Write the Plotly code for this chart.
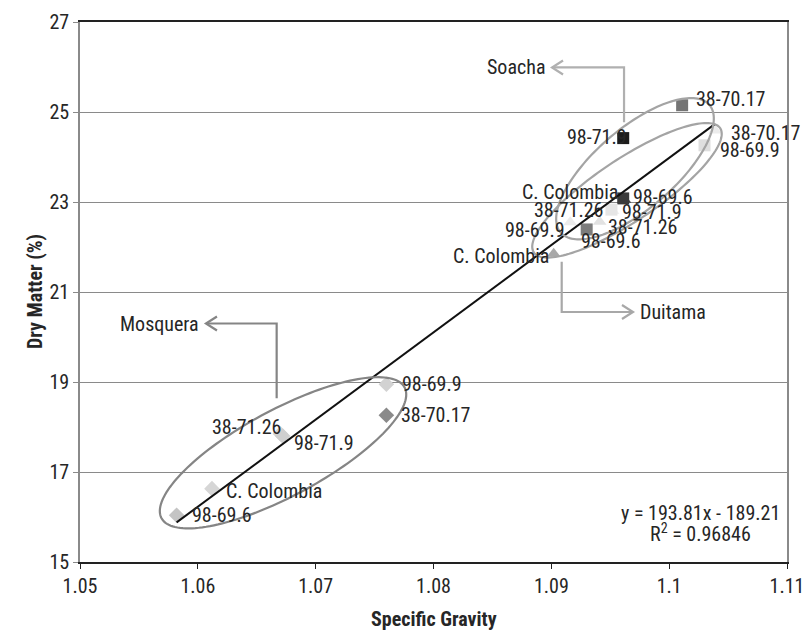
import numpy as np
import plotly.graph_objects as go

# ---------------- data ----------------
mosquera_labels = ["98-69.6", "C. Colombia", "38-71.26", "98-71.9", "98-69.9", "38-70.17"]
mosquera_sg = [1.0582, 1.0612, 1.0670, 1.0672, 1.0760, 1.0760]
mosquera_dm = [16.04, 16.63, 17.85, 17.80, 18.95, 18.26]

soacha_labels = ["38-70.17", "98-71.9", "98-69.9", "C. Colombia", "38-71.26", "98-69.6"]
soacha_sg = [1.1011, 1.0961, 1.1030, 1.0961, 1.0951, 1.0930]
soacha_dm = [25.15, 24.42, 24.26, 23.08, 22.83, 22.39]

duitama_labels = ["38-70.17", "98-69.6", "98-71.9", "38-71.26", "98-69.9", "C. Colombia"]
duitama_sg = [1.1039, 1.0962, 1.0952, 1.0941, 1.0916, 1.0902]
duitama_dm = [24.59, 23.05, 22.80, 22.56, 22.55, 21.85]

x_tick_vals = [1.05, 1.06, 1.07, 1.08, 1.09, 1.10, 1.11]
x_tick_text = ["1.05", "1.06", "1.07", "1.08", "1.09", "1.1", "1.11"]
y_tick_vals = [15, 17, 19, 21, 23, 25, 27]

trend_slope = 193.81
trend_intercept = -189.21
r_squared = 0.96846

group_names = ["Mosquera", "Soacha", "Duitama"]

# ---------------- styles ----------------
FONT = "Roboto Condensed, Liberation Sans Narrow, Arial Narrow, sans-serif"
TXT = "#262626"
FS = 20

mosquera_colors = ["#c4c4c4", "#d6d6d6", "#d6d6d6", "#cfcfcf", "#d2d2d2", "#8a8a8a"]
soacha_colors = ["#747474", "#1c1c1c", "#dedede", "#3a3a3a", "#e6e6e6", "#7c7c7c"]
duitama_colors = ["#ececec", "#444444", "#f0f0f0", "#e2e2e2", "#ececec", "#a8a8a8"]

# label placement: (xanchor, xshift px, yshift px)
mosquera_lab = [("left", 13, 0), ("left", 12, -2), ("right", 3, 7), ("left", 9, -7),
                ("left", 14, 0), ("left", 13, 0)]
soacha_lab = [("left", 12, 6), ("right", 6, 1), ("left", 13, -5), ("right", -3, 6),
              ("right", -6, 0), ("left", -8, -12)]
duitama_lab = [("left", 14, -3), ("left", 7, 3), ("left", 7, -1), ("left", 6, -5),
               ("right", -3, -8), ("right", -3, -2)]

X_RANGE = [1.05, 1.11]
Y_RANGE = [15, 27]
W, H = 805, 630
ML, MR, MT, MB = 80, 18, 22, 68
PLOT_W = W - ML - MR
PLOT_H = H - MT - MB
PX_X = PLOT_W / (X_RANGE[1] - X_RANGE[0])
PX_Y = PLOT_H / (Y_RANGE[1] - Y_RANGE[0])

fig = go.Figure()

fig.add_trace(go.Scatter(x=mosquera_sg, y=mosquera_dm, mode="markers", name=group_names[0],
                         marker=dict(symbol="diamond", size=12, color=mosquera_colors,
                                     line=dict(width=0))))
fig.add_trace(go.Scatter(x=duitama_sg, y=duitama_dm, mode="markers", name=group_names[2],
                         marker=dict(symbol="triangle-up", size=12, color=duitama_colors,
                                     line=dict(width=0))))
fig.add_trace(go.Scatter(x=soacha_sg, y=soacha_dm, mode="markers", name=group_names[1],
                         marker=dict(symbol="square", size=12, color=soacha_colors,
                                     line=dict(width=0))))

all_x = mosquera_sg + soacha_sg + duitama_sg
tx = np.array([min(all_x), max(all_x)])
fig.add_trace(go.Scatter(x=tx, y=trend_slope * tx + trend_intercept, mode="lines",
                         line=dict(color="#111111", width=2), showlegend=False))

annotations = []
for labels, xs, ys, placement in [(mosquera_labels, mosquera_sg, mosquera_dm, mosquera_lab),
                                  (soacha_labels, soacha_sg, soacha_dm, soacha_lab),
                                  (duitama_labels, duitama_sg, duitama_dm, duitama_lab)]:
    for lab, x, y, (xa, xs_, ys_) in zip(labels, xs, ys, placement):
        annotations.append(dict(x=x, y=y, text=lab, showarrow=False, xanchor=xa,
                                yanchor="middle", xshift=xs_, yshift=ys_,
                                font=dict(family=FONT, size=FS, color=TXT)))


def ellipse_path(cx, cy, a, b, theta_deg, n=160):
    th = np.radians(theta_deg)
    t = np.linspace(0, 2 * np.pi, n)
    u, v = a * np.cos(t), b * np.sin(t)
    dx = u * np.cos(th) - v * np.sin(th)
    dy = u * np.sin(th) + v * np.cos(th)
    xs = cx + dx / PX_X
    ys = cy + dy / PX_Y
    return "M " + " L ".join(f"{x:.6f},{y:.5f}" for x, y in zip(xs, ys)) + " Z"


def px_dx(p):
    return p / PX_X


def px_dy(p):
    return p / PX_Y


shapes = []
# ellipses (center in data units, semi-axes in px, angle deg)
ellipses = [((1.06723, 17.427), 138, 43, 28.3, "#858585"),
            ((1.0971, 23.74), 98, 40, 40.6, "#a4a4a4"),
            ((1.09642, 23.26), 112, 31, 33.7, "#a4a4a4")]
for (cx, cy), a, b, th, col in ellipses:
    shapes.append(dict(type="path", path=ellipse_path(cx, cy, a, b, th),
                       line=dict(color=col, width=2.2), layer="above"))

# connectors with open arrowheads at the end and group name beyond
connectors = [
    ([(1.06669, 18.64), (1.06669, 20.30), (1.06069, 20.30)], "#858585", "Mosquera"),
    ([(1.09617, 24.77), (1.09617, 25.99), (1.09006, 25.99)], "#b0b0b0", "Soacha"),
    ([(1.09088, 21.67), (1.09088, 20.556), (1.09693, 20.556)], "#a8a8a8", "Duitama"),
]
for pts, col, name in connectors:
    path = "M " + " L ".join(f"{x},{y}" for x, y in pts)
    shapes.append(dict(type="path", path=path, line=dict(color=col, width=2.2), layer="above"))
    (x1, y1), (x2, y2) = pts[-2], pts[-1]
    sgn = 1 if x2 > x1 else -1
    head = (f"M {x2 - sgn * px_dx(11)},{y2 + px_dy(7)} L {x2},{y2} "
            f"L {x2 - sgn * px_dx(11)},{y2 - px_dy(7)}")
    shapes.append(dict(type="path", path=head, line=dict(color=col, width=2.2), layer="above"))
    annotations.append(dict(x=x2, y=y2, text=name, showarrow=False,
                            xanchor="left" if sgn > 0 else "right", yanchor="middle",
                            xshift=5 * sgn, font=dict(family=FONT, size=FS, color=TXT)))

annotations.append(dict(xref="paper", yref="paper", x=0.877, y=49 / PLOT_H,
                        text=f"y = {trend_slope}x - {abs(trend_intercept)}", showarrow=False,
                        xanchor="center", yanchor="middle",
                        font=dict(family=FONT, size=FS, color=TXT)))
annotations.append(dict(xref="paper", yref="paper", x=0.877, y=29 / PLOT_H,
                        text=f"R<sup>2</sup> = {r_squared}", showarrow=False,
                        xanchor="center", yanchor="middle",
                        font=dict(family=FONT, size=FS, color=TXT)))
# axis titles
annotations.append(dict(xref="paper", yref="paper", x=0.5, y=-57 / PLOT_H,
                        text="<b>Specific Gravity</b>", showarrow=False,
                        xanchor="center", yanchor="middle",
                        font=dict(family=FONT, size=20, color=TXT)))
annotations.append(dict(xref="paper", yref="paper", x=-45 / PLOT_W, y=0.5,
                        text="<b>Dry Matter (%)</b>", showarrow=False, textangle=-90,
                        xanchor="center", yanchor="middle",
                        font=dict(family=FONT, size=20, color=TXT)))

fig.update_layout(
    width=W, height=H,
    margin=dict(l=ML, r=MR, t=MT, b=MB, autoexpand=False),
    paper_bgcolor="white", plot_bgcolor="white",
    showlegend=False,
    font=dict(family=FONT, size=FS, color=TXT),
    shapes=shapes, annotations=annotations,
    xaxis=dict(range=X_RANGE, tickvals=x_tick_vals, ticktext=x_tick_text,
               showgrid=False, zeroline=False, showline=True, linecolor="#222222",
               linewidth=1.5, mirror=True, ticks="outside", ticklen=5, tickcolor="#222222",
               tickfont=dict(family=FONT, size=FS, color=TXT), automargin=False),
    yaxis=dict(range=Y_RANGE, tickvals=y_tick_vals, showgrid=True, gridcolor="#8a8a8a",
               gridwidth=1, zeroline=False, showline=True, linecolor="#8a8a8a",
               linewidth=1.5, mirror=True, ticks="outside", ticklen=5, tickcolor="#8a8a8a",
               tickfont=dict(family=FONT, size=FS, color=TXT), automargin=False),
)

fig.write_html("out.html", config={"displayModeBar": False},
               post_script="document.body.style.margin='0';document.body.style.overflow='hidden';")
